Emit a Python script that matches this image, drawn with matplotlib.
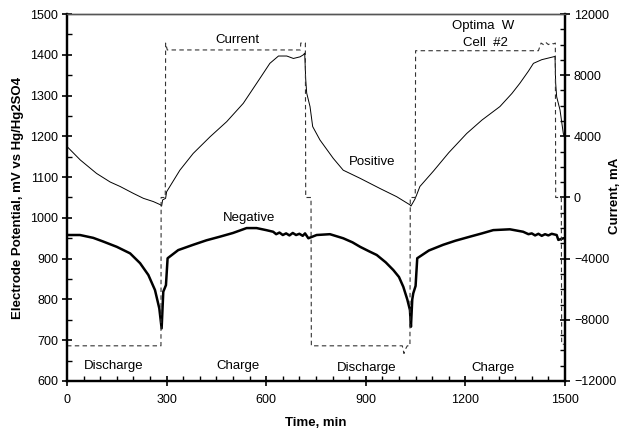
import matplotlib
matplotlib.use('Agg')
import matplotlib.pyplot as plt
from matplotlib.ticker import MultipleLocator

plt.rcParams['font.family'] = ['Liberation Sans', 'DejaVu Sans']

# Positive electrode potential (mV) vs time (min)
pos_time = [0, 40, 89, 130, 160, 200, 230, 260, 282, 285, 288, 297, 300, 340, 380, 431,
            481, 531, 581, 611, 637, 662, 682, 702, 712, 716, 719, 722, 732, 740, 762,
            802, 832, 883, 943, 993, 1033, 1036, 1048, 1053, 1063, 1104, 1150, 1204,
            1250, 1304, 1340, 1364, 1390, 1405, 1430, 1450, 1465, 1470, 1472, 1475,
            1485, 1495, 1500]
pos_mv = [1175, 1142, 1109, 1088, 1077, 1060, 1048, 1040, 1032, 1029, 1044, 1048, 1064,
          1117, 1158, 1199, 1236, 1281, 1342, 1379, 1397, 1397, 1391, 1395, 1400, 1404,
          1340, 1306, 1273, 1224, 1191, 1146, 1117, 1097, 1072, 1052, 1032, 1029, 1046,
          1056, 1077, 1115, 1160, 1207, 1240, 1273, 1305, 1330, 1360, 1379, 1388, 1392,
          1395, 1396, 1330, 1297, 1265, 1207, 1195]

# Negative electrode potential (mV)
neg_time = [0, 39, 79, 109, 150, 190, 220, 245, 265, 278, 285, 290, 298, 303, 335, 380,
            420, 461, 500, 541, 571, 600, 621, 630, 640, 650, 660, 670, 680, 690, 700,
            710, 717, 727, 752, 792, 832, 860, 883, 910, 933, 960, 983, 1000, 1013,
            1025, 1033, 1036, 1040, 1043, 1050, 1055, 1090, 1133, 1170, 1214, 1250,
            1284, 1334, 1374, 1390, 1400, 1410, 1420, 1430, 1440, 1450, 1460, 1475,
            1480, 1495, 1500]
neg_mv = [958, 958, 951, 942, 929, 913, 889, 860, 823, 778, 729, 819, 835, 901, 921, 934,
          945, 954, 963, 975, 975, 970, 966, 960, 964, 958, 962, 957, 963, 958, 961, 956,
          962, 950, 958, 960, 950, 940, 929, 918, 909, 891, 872, 855, 831, 800, 774, 733,
          800, 815, 833, 901, 920, 934, 944, 954, 962, 970, 972, 966, 960, 962, 957, 961,
          956, 960, 957, 961, 958, 946, 950, 950]

# Current (mA)
cur_time = [0, 283, 283.5, 296, 297, 302, 703, 704, 718, 719, 735, 736, 1010, 1015, 1020,
            1025, 1033, 1034, 1049, 1050, 1420, 1428, 1435, 1442, 1450, 1458, 1466, 1471,
            1472, 1489, 1490, 1500]
cur_ma = [-9700, -9700, 0, 0, 10100, 9650, 9650, 10100, 10100, 0, 0, -9700, -9700, -10200,
          -9900, -9700, -9700, 0, 0, 9600, 9600, 10100, 10000, 10150, 10000, 10100, 10050,
          10100, 0, 0, -9600, -9600]

fig = plt.figure(figsize=(6.24, 4.30), dpi=100)
ax = fig.add_axes([0.1074, 0.114, 0.798, 0.8534])
ax2 = ax.twinx()

ax.plot(pos_time, pos_mv, color='black', lw=0.7)
ax.plot(neg_time, neg_mv, color='black', lw=1.8)
ax2.plot(cur_time, cur_ma, color='#333333', lw=0.8, ls=(0, (4, 3)))

ax.set_xlim(0, 1500)
ax.set_ylim(600, 1500)
ax2.set_ylim(-12000, 12000)

ax.xaxis.set_major_locator(MultipleLocator(300))
ax.xaxis.set_minor_locator(MultipleLocator(50))
ax.yaxis.set_major_locator(MultipleLocator(100))
ax.yaxis.set_minor_locator(MultipleLocator(50))
ax2.yaxis.set_major_locator(MultipleLocator(4000))
ax2.yaxis.set_minor_locator(MultipleLocator(1000))

for a in (ax, ax2):
    a.tick_params(which='major', direction='inout', length=7, width=1.2, labelsize=9, pad=3)
    a.tick_params(which='minor', direction='in', length=3.5, width=1)
ax.tick_params(axis='x', pad=6)
ax.tick_params(axis='y', right=False)

for a in (ax, ax2):
    for side in ('left', 'bottom', 'right'):
        a.spines[side].set_linewidth(1.6)
    a.spines['top'].set_linewidth(1.0)
    a.spines['top'].set_color('#555555')

ax.set_xlabel('Time, min', fontsize=9.5, fontweight='bold', labelpad=8)
ax.set_ylabel('Electrode Potential, mV vs Hg/Hg2SO4', fontsize=9.5, fontweight='bold', labelpad=4)
fig.text(615 / 624, 1 - 196 / 430, 'Current, mA', rotation=90, fontsize=9.5,
         fontweight='bold', ha='center', va='center')

txt = dict(fontsize=9.5, ha='center', va='center')
ax.text(512, 1436, 'Current', **txt)
ax.text(1253, 1471, 'Optima  W', **txt)
ax.text(1259, 1430, 'Cell  #2', **txt)
ax.text(919, 1138, 'Positive', **txt)
ax.text(548, 1000, 'Negative', **txt)
ax.text(142, 637, 'Discharge', **txt)
ax.text(515, 637, 'Charge', **txt)
ax.text(904, 632, 'Discharge', **txt)
ax.text(1283, 632, 'Charge', **txt)

fig.savefig('out.png', dpi=100, facecolor='white')
